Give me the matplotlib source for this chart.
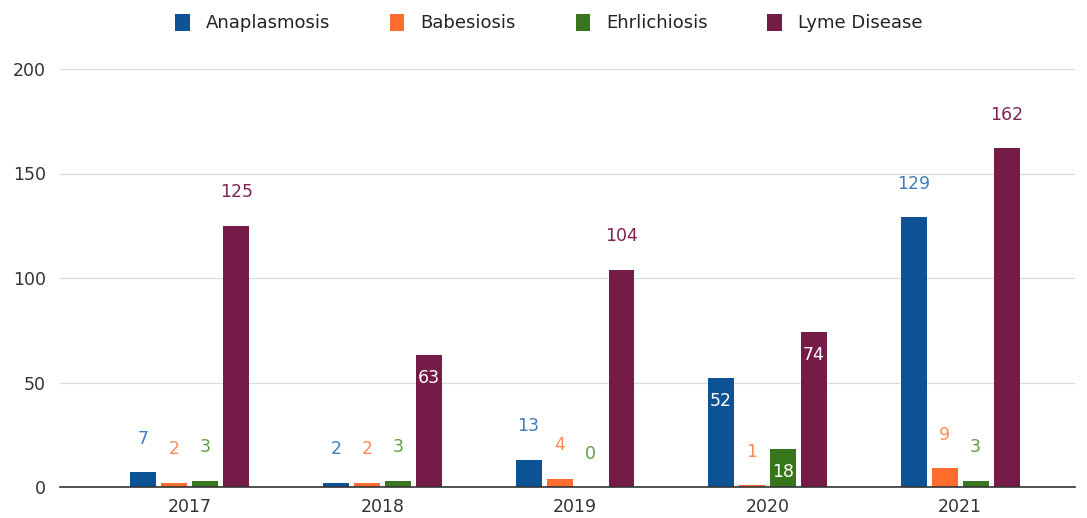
import numpy as np
import matplotlib
matplotlib.use('Agg')
import matplotlib.pyplot as plt

years = ['2017', '2018', '2019', '2020', '2021']
series = ['Anaplasmosis', 'Babesiosis', 'Ehrlichiosis', 'Lyme Disease']
anaplasmosis = [7, 2, 13, 52, 129]
babesiosis = [2, 2, 4, 1, 9]
ehrlichiosis = [3, 3, 0, 18, 3]
lyme = [125, 63, 104, 74, 162]

# labels that sit inside the bar (white) rather than above it
inside = {('Anaplasmosis', '2020'), ('Ehrlichiosis', '2020'),
          ('Lyme Disease', '2018'), ('Lyme Disease', '2020')}

bar_colors = ['#0b5394', '#ff6d2e', '#38761d', '#741b47']
label_colors = ['#3f7dbf', '#ff8a55', '#5f9e45', '#7e2453']

plt.rcParams['font.family'] = ['DejaVu Sans']

fig = plt.figure(figsize=(10.87, 5.18), dpi=100)
ax = fig.add_axes([60 / 1087, 1 - 487 / 518, (1075 - 60) / 1087, (487 - 69) / 518])

x = np.arange(len(years))
step = 0.161
width = 0.135
values = [anaplasmosis, babesiosis, ehrlichiosis, lyme]

for k, (name, vals) in enumerate(zip(series, values)):
    pos = x + (k - 1.5) * step
    bars = ax.bar(pos, vals, width, color=bar_colors[k], label=name, zorder=3)
    for b, v, yr in zip(bars, vals, years):
        cx = b.get_x() + b.get_width() / 2
        if (name, yr) in inside:
            ax.annotate(str(v), (cx, v), xytext=(0, -16), textcoords='offset points',
                        ha='center', va='center', color='white', fontsize=12.5, zorder=4)
        else:
            ax.annotate(str(v), (cx, v), xytext=(0, 24), textcoords='offset points',
                        ha='center', va='center', color=label_colors[k], fontsize=12.5, zorder=4)

ax.set_xlim(-0.675, 4.597)
ax.set_ylim(0, 200)
ax.set_yticks([0, 50, 100, 150, 200])
ax.set_xticks(x)
ax.set_xticklabels(years)
ax.tick_params(axis='both', length=0, labelsize=12.5, colors='#333333')
ax.tick_params(axis='x', pad=8)
ax.tick_params(axis='y', pad=10)
ax.grid(axis='y', color='#dddddd', linewidth=1.0, zorder=0)
for s in ['top', 'right', 'left']:
    ax.spines[s].set_visible(False)
ax.spines['bottom'].set_color('#333333')
ax.spines['bottom'].set_linewidth(1.2)
ax.spines['bottom'].set_zorder(5)

fig.legend(loc='upper center', bbox_to_anchor=(0.505, 1.005), ncol=4, frameon=False,
           fontsize=13, handlelength=0.8, handleheight=1.1, handletextpad=0.9,
           columnspacing=3.3, labelcolor='#222222')

fig.savefig('out.png', dpi=100)
